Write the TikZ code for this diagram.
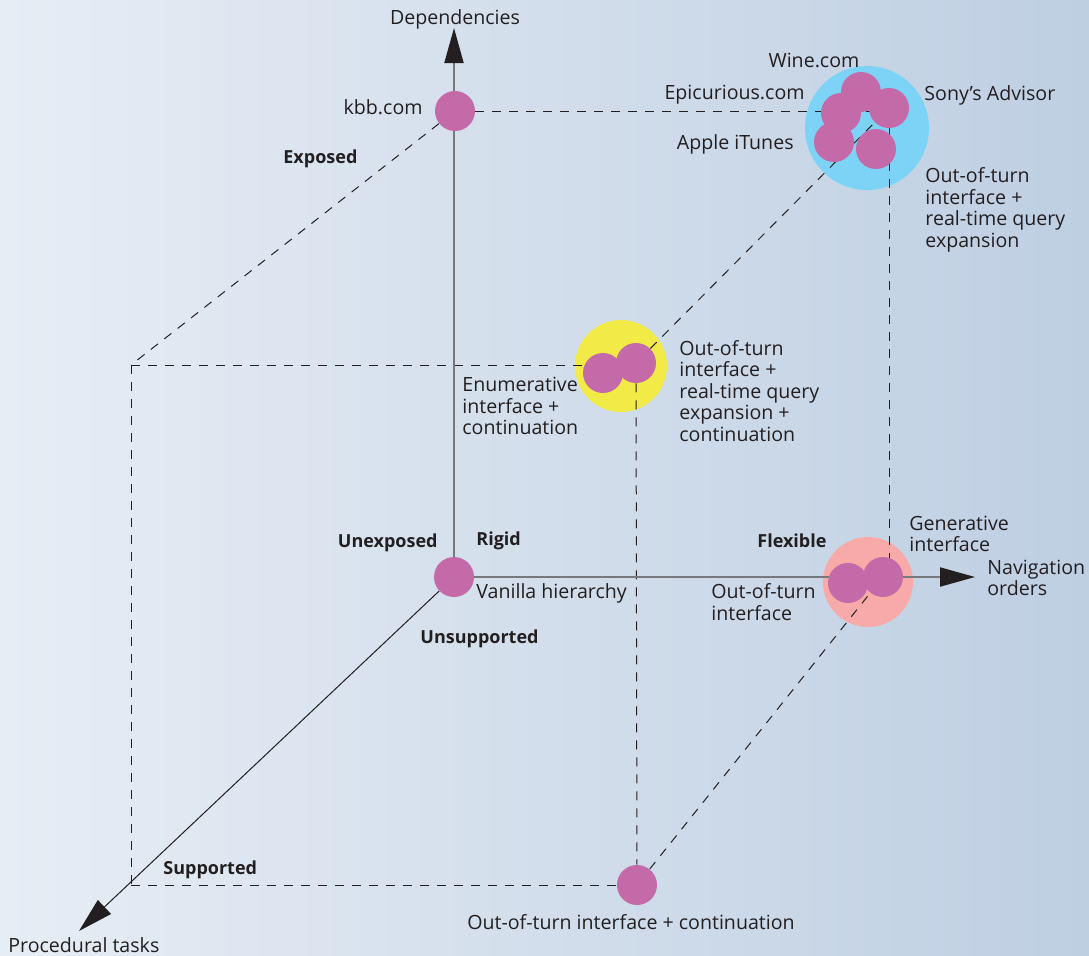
\documentclass[tikz,border=0pt]{standalone}
\usepackage{fontspec}
\setmainfont{Open Sans}
\usetikzlibrary{arrows.meta,positioning,shapes.geometric}

\definecolor{ink}{HTML}{231F20}
\definecolor{dotc}{HTML}{C46AA8}
\definecolor{axisgray}{HTML}{77787B}
\definecolor{bgl}{HTML}{E7EDF5}
\definecolor{bgr}{HTML}{BECFE2}
\definecolor{haloblue}{HTML}{7DD3F5}
\definecolor{haloyellow}{HTML}{F2EB47}
\definecolor{halopink}{HTML}{F7AAA8}

\pgfdeclarelayer{back}
\pgfdeclarelayer{background}
\pgfsetlayers{back,background,main}

\begin{document}
\begin{tikzpicture}[
  x=0.5pt, y=-0.5pt,
  dot/.style={circle, fill=dotc, minimum size=20pt, inner sep=0pt},
  halo/.style={circle, minimum size=#1, inner sep=0pt},
  lbl/.style={inner sep=0pt, yshift=-1pt, text=ink, align=left, font=\fontsize{9.8}{10.75}\selectfont},
  hdr/.style={lbl, font=\fontsize{9}{10.75}\selectfont\bfseries},
  axis/.style={draw=axisgray, line width=1pt, -{Triangle[length=17.5pt,width=9.5pt,color=ink]}},
  edge/.style={draw=ink, line width=0.5pt, dash pattern=on 4.5pt off 4pt},
]
  % Background
  \begin{pgfonlayer}{back}
    \shade[left color=bgl, right color=bgr] (0,0) rectangle (1089,955);
  \end{pgfonlayer}
  \useasboundingbox (0,0) rectangle (1089,955);

  % Dots
  \node[dot] (vanilla) at (454,577) {};
  \node[dot] (kbb)     at (455,111) {};
  \node[dot] (wine)    at (861,92)  {};
  \node[dot] (sony)    at (889,108) {};
  \node[dot] (epi)     at (841,113) {};
  \node[dot] (itunes)  at (834,142) {};
  \node[dot] (qexp)    at (876,149) {};
  \node[dot] (enum)    at (603,373) {};
  \node[dot] (ootqc)   at (636,363) {};
  \node[dot] (ooti)    at (848,583) {};
  \node[dot] (gen)     at (883,577) {};
  \node[dot] (ootc)    at (637,885) {};

  % Corners and tips
  \coordinate (tl) at (131,365);
  \coordinate (bl) at (131,885);
  \coordinate (deptip)  at (454,28);
  \coordinate (navtip)  at (975,577);
  \coordinate (proctip) at (79,931);

  \begin{pgfonlayer}{background}
    % Halos
    \node[halo=62pt, fill=haloblue]   (blue)   at (867,128) {};
    \node[halo=46pt, fill=haloyellow] (yellow) at (621,366) {};
    \node[halo=45pt, fill=halopink]   (pink)   at (868,582) {};

    % Cube edges
    \draw[edge] (kbb) -- (tl);
    \draw[edge] (kbb) -- (kbb -| sony);
    \draw[edge] (sony) -- (sony |- gen);
    \draw[edge] (tl) -- (tl -| enum);
    \draw[edge] (ootqc) -- (sony);
    \draw[edge] (ootqc) -- (ootc);
    \draw[edge] (tl) -- (bl);
    \draw[edge] (bl) -- (ootc);
    \draw[edge] (ootc) -- (gen);

    % Axes
    \draw[axis] (vanilla) -- (deptip);
    \draw[axis] (vanilla) -- (navtip);
    \draw[axis, draw=ink, line width=0.5pt] (vanilla) -- (proctip);
  \end{pgfonlayer}

  % Labels
  \node[lbl] (deplbl) at (455,17) {Dependencies};
  \node[lbl, anchor=east] at (423,105) {kbb.com};
  \node[hdr, anchor=west] at (283,157) {Exposed};
  \node[lbl] at (814,58) {Wine.com};
  \node[lbl, anchor=east] at (805,93)  {Epicurious.com};
  \node[lbl, anchor=west] at (924,93)  {Sony’s Advisor};
  \node[lbl, anchor=east] at (794,142) {Apple iTunes};
  \node[lbl, anchor=west] at (925,208) {Out-of-turn\\interface +\\real-time query\\expansion};
  \node[lbl, anchor=west] at (462,404) {Enumerative\\interface +\\continuation};
  \node[lbl, anchor=west] at (679,389) {Out-of-turn\\interface +\\real-time query\\expansion +\\continuation};
  \node[hdr, anchor=east] at (438,541) {Unexposed};
  \node[hdr, anchor=west] at (476,539) {Rigid};
  \node[lbl, anchor=west] at (476,591) {Vanilla hierarchy};
  \node[hdr, anchor=west] at (420,637) {Unsupported};
  \node[hdr, anchor=west] at (757,539) {Flexible};
  \node[lbl, anchor=west] at (909,532) {Generative\\interface};
  \node[lbl, anchor=west] at (987,576) {Navigation\\orders};
  \node[lbl, anchor=west] at (711,600) {Out-of-turn\\interface};
  \node[hdr, anchor=west] at (163,868) {Supported};
  \node[lbl, anchor=west] at (8,943)   {Procedural tasks};
  \node[lbl] at (631,920) {Out-of-turn interface + continuation};
\end{tikzpicture}
\end{document}
